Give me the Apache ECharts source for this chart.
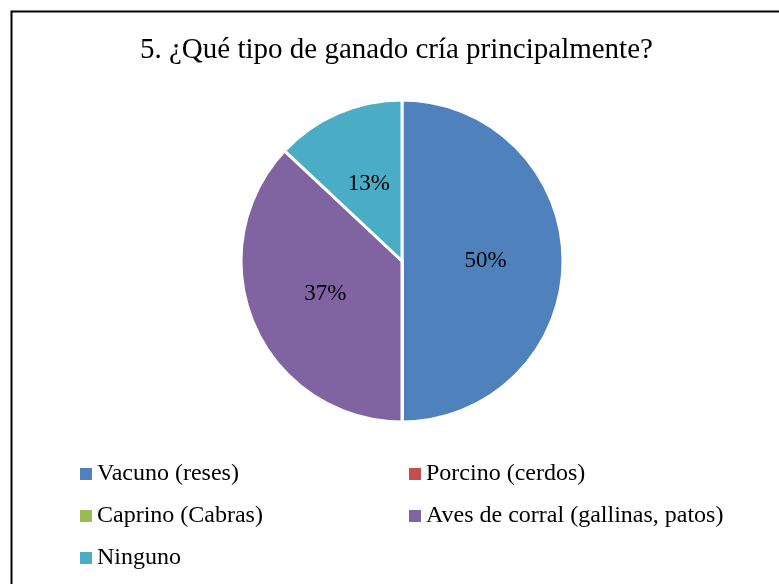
<!DOCTYPE html>
<html>
<head>
<meta charset="utf-8">
<script src="https://cdn.jsdelivr.net/npm/echarts@6/dist/echarts.min.js"></script>
<style>
  html, body { margin: 0; padding: 0; background: #fff; }
  #chart { width: 779px; height: 584px; }
</style>
</head>
<body>
<div id="chart"></div>
<script>
// data
const categories = ['Vacuno (reses)', 'Porcino (cerdos)', 'Caprino (Cabras)', 'Aves de corral (gallinas, patos)', 'Ninguno']
const values = [50, 0, 0, 37, 13]
const colors = ['#4F81BD', '#C0504D', '#9BBB59', '#8064A2', '#4BACC6']

const font = '"Liberation Serif", "Times New Roman", serif'

const chart = echarts.init(document.getElementById('chart'))

const legendBase = {
  orient: 'vertical',
  top: 461,
  padding: 0,
  itemWidth: 12,
  itemHeight: 12,
  itemGap: 16,
  icon: 'rect',
  selectedMode: false,
  itemStyle: { borderWidth: 0 },
  textStyle: { fontFamily: font, fontSize: 24, color: '#000', lineHeight: 26 },
}

chart.setOption({
  animation: false,
  color: colors,
  title: {
    text: '5. ¿Qué tipo de ganado cría principalmente?',
    left: 135,
    top: 31,
    textStyle: { fontFamily: font, fontSize: 29, fontWeight: 'normal', color: '#000' },
  },
  legend: [
    Object.assign({}, legendBase, { left: 80, data: [categories[0], categories[2], categories[4]] }),
    Object.assign({}, legendBase, { left: 409, data: [categories[1], categories[3]] }),
  ],
  graphic: [{
    type: 'rect',
    shape: { x: 11.5, y: 11.5, width: 800, height: 600 },
    style: { fill: 'none', stroke: '#000', lineWidth: 2 },
    silent: true,
  }],
  series: [{
    type: 'pie',
    center: [402, 261],
    radius: [0, 161],
    startAngle: 90,
    clockwise: true,
    avoidLabelOverlap: false,
    itemStyle: { borderColor: '#fff', borderWidth: 3 },
    label: {
      position: 'inside',
      fontFamily: font,
      fontSize: 23,
      color: '#000',
      formatter: p => p.value > 0 ? p.percent.toFixed(0) + '%' : '',
    },
    labelLine: { show: false },
    emphasis: { disabled: true },
    data: categories.map((name, i) => ({ name, value: values[i] })),
  }],
})
</script>
</body>
</html>
